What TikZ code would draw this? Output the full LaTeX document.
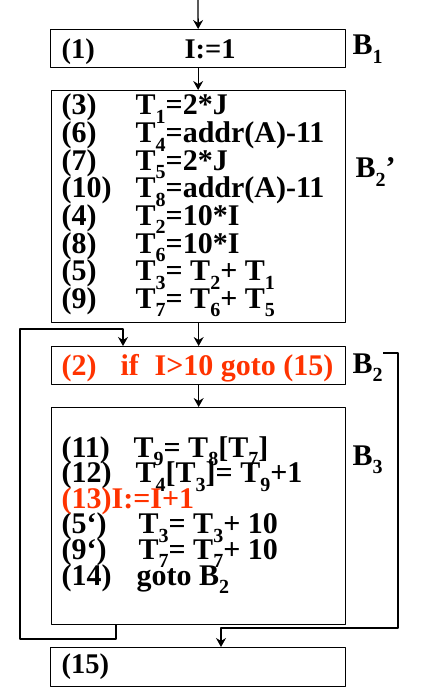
\documentclass[tikz,border=0pt]{standalone}
\usepackage{fontspec}
\setmainfont{Liberation Serif}
\usetikzlibrary{arrows.meta}
\definecolor{hot}{RGB}{255,51,0}
\newcommand{\lo}[1]{\raisebox{-8.5pt}{\fontsize{20}{20}\selectfont#1}}
\tikzset{
	blk/.style={draw,inner sep=0pt,anchor=north west},
	txt/.style={anchor=base west,inner sep=0pt,font=\fontsize{30}{30}\selectfont\bfseries},
	small txt/.style={txt,font=\fontsize{28.5}{28}\selectfont\bfseries},
	lbl/.style={anchor=base west,inner sep=0pt,font=\fontsize{30}{30}\selectfont\bfseries},
}
\begin{document}
\begin{tikzpicture}[x=1pt,y=-1pt,line width=1.3pt,line join=round,>={Stealth[length=9pt,width=10pt,inset=3pt]}]
	\useasboundingbox (0,0) rectangle (424,687);
	% blocks
	\node[blk,minimum width=295pt,minimum height=38pt] (B1) at (50,29) {};
	\node[blk,minimum width=294pt,minimum height=232pt] (B2p) at (51,90) {};
	\node[blk,minimum width=294pt,minimum height=38pt] (B2) at (51,346) {};
	\node[blk,minimum width=294pt,minimum height=217pt] (B3) at (51,407) {};
	\node[blk,minimum width=295pt,minimum height=39pt] (B15) at (50,647) {};
	% B1
	\node[small txt] (n1) at (61,59) {(1)};
	\node[small txt] (e1) at (184,59) {I:=1};
	% B2'
	\foreach \nr/\ex [count=\i] in {{(3)}/{T\lo{1}=2*J},{(6)}/{T\lo{4}=addr(A)-11},
		{(7)}/{T\lo{5}=2*J},{(10)}/{T\lo{8}=addr(A)-11},{(4)}/{T\lo{2}=10*I},
		{(8)}/{T\lo{6}=10*I},{(5)}/{T\lo{3}= T\lo{2}+ T\lo{1}},{(9)}/{T\lo{7}= T\lo{6}+ T\lo{5}}}
	{
		\node[txt] (pn\i) at (61,87.4+27.6*\i) {\nr};
		\node[txt] (pe\i) at (135,87.4+27.6*\i) {\ex};
	}
	% B2
	\node[txt,text=hot] (n2) at (61,375) {(2)};
	\node[txt,text=hot] (e2a) at (120,375) {if};
	\node[txt,text=hot] (e2b) at (154,375) {I>10 goto (15)};
	% B3
	\foreach \nr/\ex/\xx [count=\i] in {{(11)}/{T\lo{9}= T\lo{8}[T\lo{7}]}/133,
		{(12)}/{T\lo{4}[T\lo{3}]= T\lo{9}+1}/135,
		{}/{}/135,
		{(5‘)}/{T\lo{3}= T\lo{3}+ 10}/138,
		{(9‘)}/{T\lo{7}= T\lo{7}+ 10}/138,
		{(14)}/{goto B\lo{2}}/136}
	{
		\node[txt] (qn\i) at (61,431.4+25.6*\i) {\nr};
		\node[txt] (qe\i) at (\xx,431.4+25.6*\i) {\ex};
	}
	\node[txt,text=hot] (n13) at (61,508) {(13)I:=I+1};
	% B15
	\node[small txt] (n15) at (61,673) {(15)};
	% labels
	\node[lbl] (lB1) at (352,55) {B\lo{1}};
	\node[lbl] (lB2p) at (355,178) {B\lo{2}’};
	\node[lbl] (lB2) at (352,373) {B\lo{2}};
	\node[lbl] (lB3) at (352,465) {B\lo{3}};
	% edges
	\coordinate (in) at (198,0);
	\draw[->] (in) -- (B1.north);
	\draw[->] (B1.south) -- (B1.south |- B2p.north);
	\draw[->] (B2p.south) -- (B2p.south |- B2.north);
	\draw[->] (B2.south) -- (B3.north);
	% back to B2
	\coordinate (bl) at (20,639);
	\coordinate (tl) at (20,329);
	\draw[->] ([xshift=65pt]B3.south west) |- (bl) -- (tl) -| ([xshift=72pt]B2.north west);
	% exit to (15)
	\coordinate (ex) at (383,353);
	\coordinate (br) at (398,628);
	\draw[->] (ex) -| (br) -| ([xshift=171pt]B15.north west);
\end{tikzpicture}
\end{document}
